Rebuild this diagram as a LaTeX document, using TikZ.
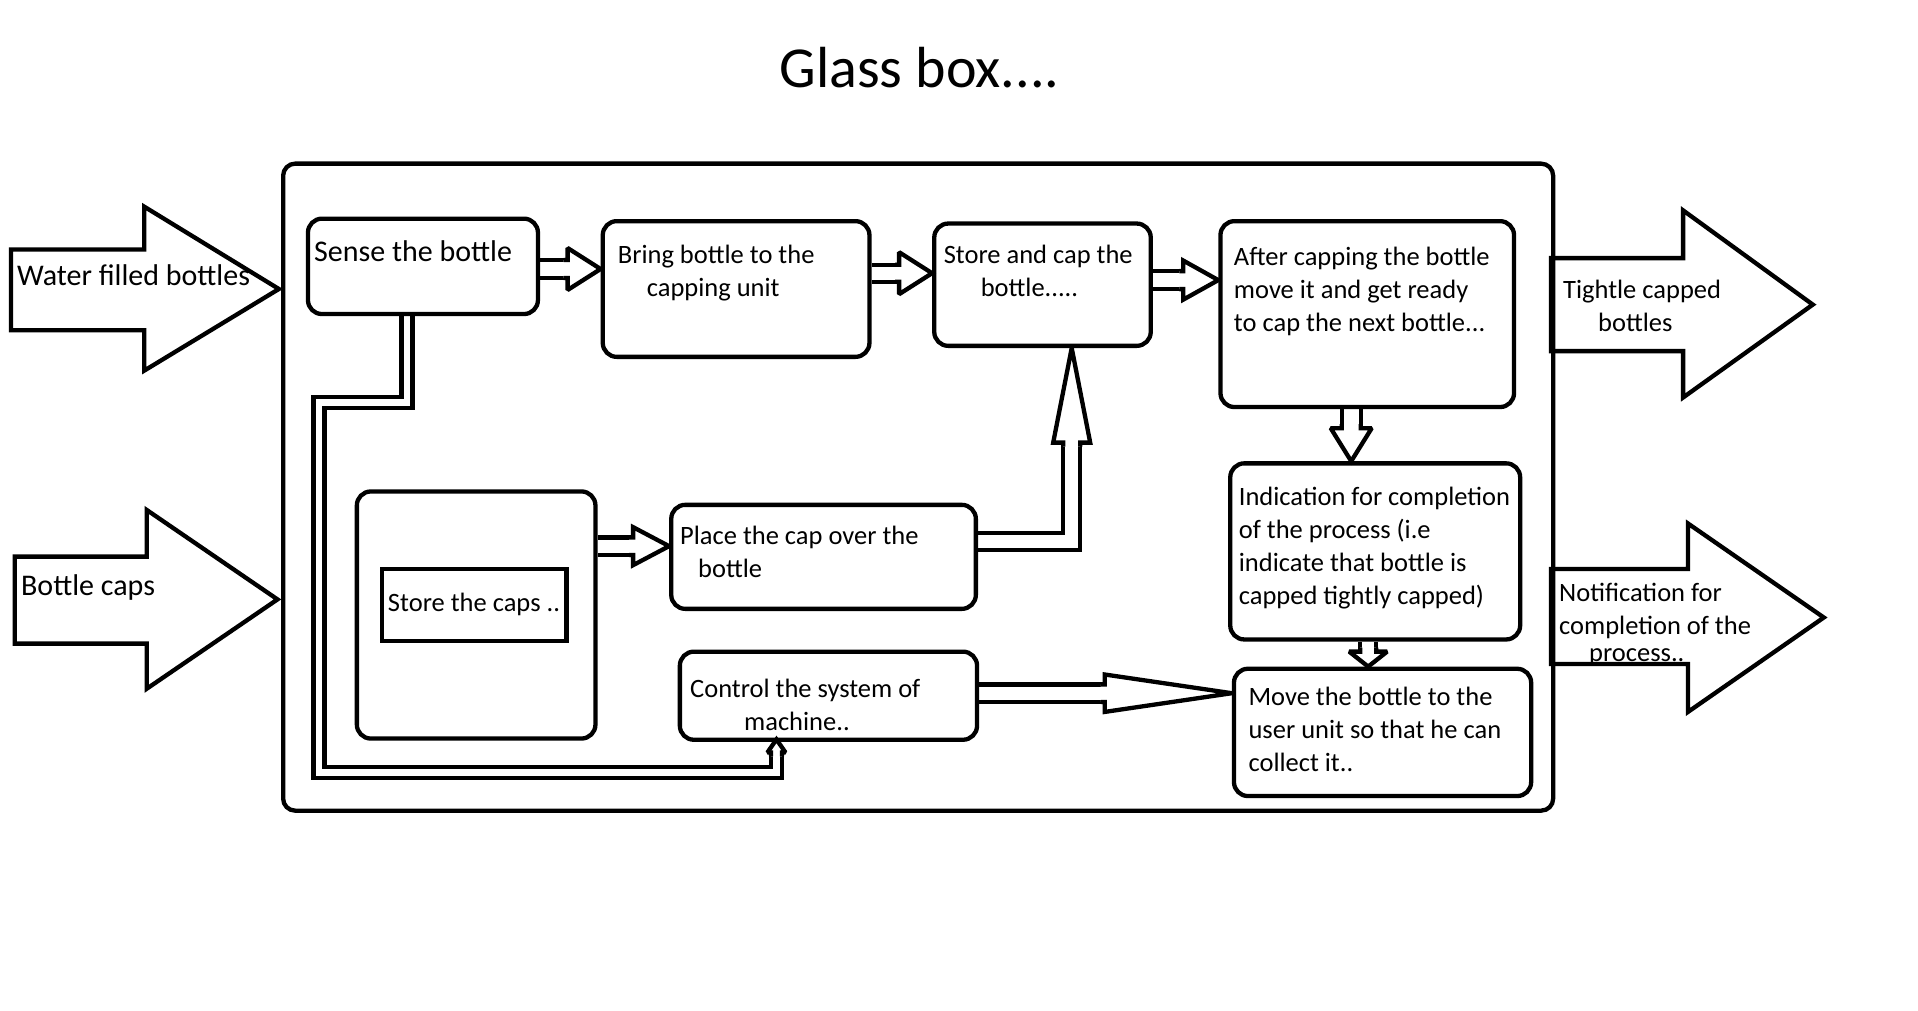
\documentclass[tikz,border=0pt]{standalone}
\usepackage{fontspec}
\setmainfont{Carlito}
\usetikzlibrary{backgrounds}
\tikzset{
  box/.style={draw, rounded corners=14, inner sep=0, anchor=north west},
  txt/.style={inner sep=0, align=left, font=\fontsize{26.5}{33}\selectfont},
  bigtxt/.style={inner sep=0, font=\fontsize{30}{36}\selectfont},
  pipe/.style={double, double distance=#1},
  bigarrow/.style={draw, line join=miter},
}
% hollow arrow head: tip, direction, length, half width, shaft half width
\newcommand{\hollowhead}[5]{\filldraw[fill=white, line join=miter, miter limit=2, shift={(#1)}, rotate=#2] (-#3-4,#5) -- (-#3,#5) -- (-#3,#4) -- (0,0) -- (-#3,-#4) -- (-#3,-#5) -- (-#3-4,-#5);}

\begin{document}
\begin{tikzpicture}[x=1pt, y=-1pt, line width=4.3pt]
\useasboundingbox (0,0) rectangle (1918,1011);
\node[font=\fontsize{58}{70}\selectfont, anchor=base, inner sep=0] (title) at (919.5,88) {Glass box....};
\node[box, rounded corners=12, minimum width=1270, minimum height=647] (glass) at (281,161.5) {};

% inputs and outputs (multi-line labels sit on their last baseline)
\draw[bigarrow] (11,249.5) -- (144.3,249.5) -- (144.3,206.7) -- (278.9,289) -- (144.3,370.6) -- (144.3,330.3) -- (11,330.3) -- cycle;
\node[bigtxt, anchor=base west] (inbottles) at (15,285) {Water filled bottles};
\draw[bigarrow] (14.7,556.6) -- (146.8,556.6) -- (146.8,510) -- (277.5,599.4) -- (146.8,688.7) -- (146.8,643.6) -- (14.7,643.6) -- cycle;
\node[bigtxt, anchor=base west] (incaps) at (19,595) {Bottle caps};
\draw[bigarrow] (1551,258.1) -- (1683.1,258.1) -- (1683.1,210.4) -- (1812.8,304.6) -- (1683.1,397.5) -- (1683.1,351.1) -- (1551,351.1) -- cycle;
\node[txt, anchor=base west] (outbottles) at (1561,331) {Tightle capped\\\hspace*{35pt}bottles};
\draw[bigarrow] (1551,569) -- (1688,569) -- (1688,523.5) -- (1823.8,617.5) -- (1688,711.9) -- (1688,664) -- (1551,664) -- cycle;
\node[txt, anchor=base west] (outnote) at (1557,661.5) {Notification for\\completion of the\\[-6pt]\hspace*{30pt}process..};

% steps
\node[box, minimum width=230, minimum height=95.4] (sense) at (305.8,216.5) {};
\node[bigtxt, anchor=base west] (sense-t) at (312,261) {Sense the bottle};
\node[box, minimum width=266.7, minimum height=135.7] (bring) at (600.6,219) {};
\node[txt, anchor=base west] (bring-t) at (615.7,296) {Bring bottle to the\\\hspace*{29pt}capping unit};
\node[box, minimum width=216.5, minimum height=122.3] (storecap) at (932.1,221.4) {};
\node[txt, anchor=base west] (storecap-t) at (941.6,296) {Store and cap the\\\hspace*{37pt}bottle.....};
\node[box, minimum width=293.6, minimum height=185.9] (after) at (1218.3,219) {};
\node[txt, anchor=base west] (after-t) at (1231.8,331) {After capping the bottle\\move it and get ready\\to cap the next bottle...};
\node[box, minimum width=289.9, minimum height=176.1] (indic) at (1228.1,461.2) {};
\node[txt, anchor=base west] (indic-t) at (1236.7,604) {Indication for completion\\of the process (i.e\\indicate that bottle is\\capped tightly capped)};
\node[box, minimum width=297.2, minimum height=127.3] (moveb) at (1231.8,666.6) {};
\node[txt, anchor=base west] (moveb-t) at (1246.4,771) {Move the bottle to the\\user unit so that he can\\collect it..};
\node[box, minimum width=238.6, minimum height=247.1] (capstore) at (354.7,489.3) {};
\node[draw, txt, minimum width=184.7, minimum height=72.2] (caps) at (474,604.9) {Store the caps ..};
\node[box, minimum width=304.6, minimum height=104] (place) at (669.1,502.7) {};
\node[txt, anchor=base west] (place-t) at (678,577) {Place the cap over the\\\hspace*{18pt}bottle};
\node[box, minimum width=297.2, minimum height=88.1] (control) at (677.7,649.5) {};
\node[txt, anchor=base west] (control-t) at (688,730) {Control the system of\\\hspace*{54pt}machine..};

% block arrows
\begin{pgfonlayer}{background}
\begin{scope}[line width=4.3pt]
\coordinate (a1) at ([yshift=20]bring.west);
\draw[pipe=13.7] (sense.east |- a1) -- ([xshift=-31]a1); \hollowhead{a1}{0}{33}{21}{9}
\coordinate (a2) at ([yshift=11.5]storecap.west);
\draw[pipe=12.7] (bring.east |- a2) -- ([xshift=-31]a2); \hollowhead{a2}{0}{33}{21}{8.5}
\coordinate (a3) at ([yshift=34]after.west);
\draw[pipe=13.7] (storecap.east |- a3) -- ([xshift=-33]a3); \hollowhead{a3}{0}{35}{19.5}{9}
\coordinate (a4) at ([xshift=-24]indic.north);
\draw[pipe=14.7] (after.south -| a4) -- ([yshift=31]a4); \hollowhead{a4}{-90}{33}{20.5}{9.5}
\coordinate (a5) at ([xshift=-14.4]moveb.north);
\draw[pipe=11.7] (indic.south -| a5) -- ([yshift=13]a5); \hollowhead{a5}{-90}{15}{19}{8}
\coordinate (a6) at ([yshift=10.7]place.west);
\draw[pipe=13.3] (capstore.east |- a6) -- ([xshift=-34]a6); \hollowhead{a6}{0}{36}{19}{8.8}
\coordinate (a7) at ([yshift=39.2]moveb.west);
\draw[pipe=13.3] (control.east |- a7) -- ([xshift=-125]a7); \hollowhead{a7}{0}{127}{18.7}{8.8}
\coordinate (a8) at ([xshift=29.2]storecap.south);
\draw[pipe=12.7] ([yshift=15.2]place.east) -| ([yshift=-92.6]a8); \hollowhead{a8}{90}{94.6}{18.5}{8.5}
\coordinate (a9) at ([xshift=-52, yshift=2.5]control.south);
\draw[pipe=6.7] ([xshift=-16]sense.south) -- ++(0,86) -| (319,772.5) -| ([yshift=-11]a9); \hollowhead{a9}{90}{13}{9}{5.5}
\end{scope}
\end{pgfonlayer}
\end{tikzpicture}
\end{document}
